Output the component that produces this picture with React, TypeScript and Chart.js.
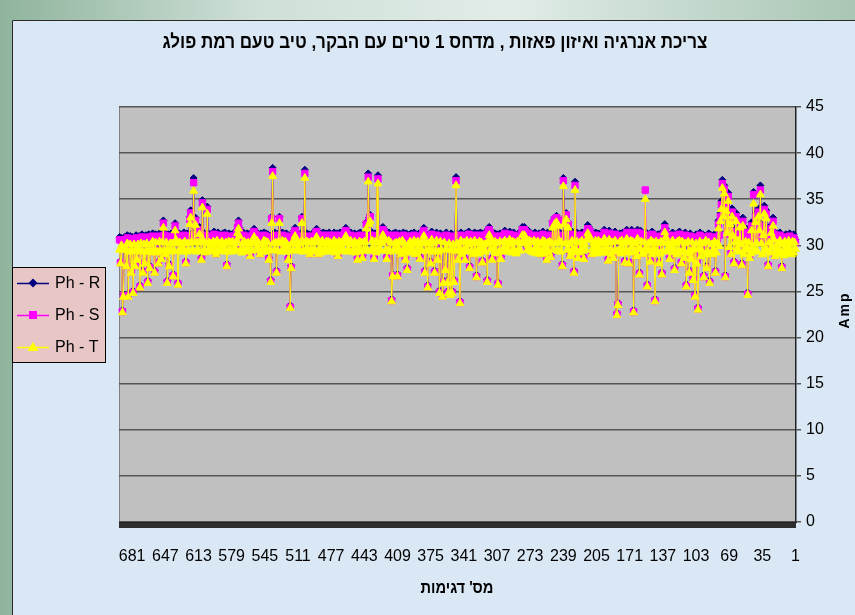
import React, { useEffect, useRef } from 'react';
import { Chart, registerables } from 'chart.js';

Chart.register(...registerables);

const TITLE = 'צריכת אנרגיה ואיזון פאזות , מדחס 1 טרים עם הבקר, טיב טעם רמת פולג';
const X_TITLE = "מס' דגימות";
const Y_TITLE = 'Amp';
const SERIES_NAMES = ['Ph - R', 'Ph - S', 'Ph - T'];
const SERIES_COLORS = ['#000080', '#ff00ff', '#ffff00'];
const SAMPLE_COUNT = 694;
const LABEL_STEP = 34;
const Y_MIN = 0;
const Y_MAX = 45;
const Y_STEP = 5;

const categories = Array.from({ length: SAMPLE_COUNT }, (_, k) => String(k + 1));

const phR = [
  30.6, 30.9, 31.2, 30.8, 30.7, 31.0, 31.3, 30.9, 31.1, 30.8, 31.2, 31.0, 30.6, 31.1, 27.8, 31.0, 31.4, 30.9, 31.3, 31.0,
  31.2, 29.1, 31.5, 33.0, 31.8, 32.2, 31.0, 30.6, 28.0, 31.4, 33.8, 31.2, 34.3, 32.0, 30.8, 31.6, 36.5, 32.5, 34.0, 31.5,
  31.8, 33.5, 31.2, 35.8, 31.5, 32.5, 31.0, 28.9, 31.4, 24.9, 31.8, 30.9, 29.8, 31.3, 33.0, 28.1, 31.6, 32.8, 31.2, 30.8,
  31.4, 33.5, 31.0, 28.3, 31.9, 34.0, 29.3, 33.2, 31.6, 35.7, 32.2, 34.6, 26.8, 36.5, 34.0, 37.1, 34.8, 33.5, 31.5, 32.7,
  31.0, 30.7, 27.3, 31.2, 30.9, 29.3, 31.1, 30.6, 26.2, 31.3, 30.8, 27.8, 31.0, 30.5, 26.8, 31.2, 30.9, 29.1, 31.4, 31.0,
  23.3, 28.3, 31.2, 24.7, 31.0, 26.5, 30.8, 28.8, 31.3, 27.3, 31.1, 30.7, 25.8, 31.4, 28.9, 31.0, 30.8, 28.3, 31.2, 31.5,
  31.0, 31.3, 30.9, 31.2, 27.6, 31.0, 31.4, 31.1, 30.8, 28.8, 31.2, 31.0, 31.3, 31.8, 32.3, 31.6, 31.1, 27.1, 31.3, 30.9,
  28.3, 31.2, 31.0, 30.8, 24.2, 31.3, 31.1, 31.5, 31.0, 28.5, 31.2, 30.9, 25.8, 31.4, 31.2, 31.0, 30.8, 29.3, 31.3, 31.6,
  27.1, 31.3, 31.7, 29.1, 31.5, 31.2, 23.0, 31.4, 31.7, 31.2, 31.0, 28.3, 31.4, 31.7, 31.3, 28.4, 31.1, 31.4, 31.0, 31.2,
  31.3, 31.0, 23.8, 22.7, 31.2, 31.5, 31.1, 28.9, 31.3, 31.0, 31.4, 31.6, 28.6, 31.2, 30.9, 31.3, 31.7, 31.4, 31.1, 31.0,
  31.2, 31.0, 31.3, 31.1, 30.9, 31.4, 31.2, 31.0, 31.3, 29.3, 31.5, 31.8, 32.0, 32.2, 31.7, 31.3, 31.0, 28.8, 31.2, 31.4,
  31.3, 31.0, 31.2, 28.9, 31.4, 31.1, 36.9, 27.3, 31.2, 31.5, 31.0, 29.1, 31.3, 32.5, 31.2, 33.5, 31.4, 33.0, 37.3, 28.0,
  31.2, 31.0, 31.4, 32.8, 31.1, 33.2, 31.3, 33.0, 31.2, 32.6, 31.0, 29.0, 31.3, 31.1, 31.4, 28.7, 31.2, 31.0, 31.3, 31.5,
  31.2, 29.3, 31.0, 31.3, 31.1, 30.9, 31.2, 31.4, 31.0, 31.2, 29.6, 31.3, 31.1, 31.4, 31.6, 29.8, 31.5, 31.8, 32.0, 31.7,
  32.0, 31.6, 31.2, 31.0, 31.3, 31.1, 30.9, 29.5, 31.2, 31.4, 31.1, 31.0, 31.3, 31.5, 29.7, 31.2, 31.0, 31.3, 31.6, 31.4,
  31.2, 31.0, 28.8, 31.3, 31.1, 26.0, 31.2, 30.9, 31.3, 31.0, 31.2, 28.7, 31.4, 31.7, 32.0, 31.8, 26.3, 31.5, 31.2, 31.0,
  31.3, 28.4, 31.1, 31.4, 31.2, 30.9, 31.3, 26.8, 31.1, 31.4, 29.3, 31.2, 31.0, 31.3, 27.8, 31.5, 31.2, 31.0, 31.3, 28.7,
  31.2, 31.0, 29.3, 31.4, 24.0, 31.1, 28.7, 31.3, 37.4, 31.2, 26.3, 31.0, 25.1, 31.3, 24.9, 31.1, 25.1, 26.2, 31.4, 27.6,
  31.2, 26.2, 24.7, 31.0, 31.3, 25.1, 31.1, 28.7, 31.4, 31.2, 27.3, 31.0, 31.3, 31.5, 28.3, 31.2, 30.9, 25.7, 31.1, 31.3,
  27.3, 31.9, 31.6, 31.2, 31.0, 28.8, 31.3, 31.1, 30.9, 31.2, 29.3, 31.4, 31.1, 31.0, 31.3, 31.2, 30.9, 31.1, 27.6, 31.3,
  28.7, 31.1, 31.4, 31.2, 29.3, 31.0, 31.3, 31.1, 26.9, 31.2, 31.4, 31.0, 31.3, 26.9, 24.2, 31.2, 31.0, 31.4, 31.1, 28.8,
  31.2, 31.5, 31.8, 32.0, 31.6, 31.2, 31.0, 31.3, 37.6, 31.2, 31.0, 31.3, 28.8, 31.1, 31.4, 31.2, 33.3, 33.0, 37.8, 31.1,
  32.5, 31.0, 31.3, 31.1, 28.9, 31.2, 31.4, 31.0, 31.3, 28.7, 31.1, 31.0, 31.3, 31.2, 29.6, 31.0, 31.4, 31.2, 31.0, 31.3,
  31.6, 31.9, 31.7, 31.3, 31.1, 31.0, 31.2, 31.4, 31.1, 29.1, 31.3, 31.0, 31.2, 31.4, 31.1, 31.0, 29.7, 31.2, 31.4, 31.1,
  31.0, 31.3, 31.2, 31.0, 31.4, 31.1, 31.3, 31.0, 31.2, 29.3, 31.5, 31.8, 31.6, 31.2, 31.0, 31.3, 31.1, 31.0, 29.3, 31.2,
  31.1, 31.3, 31.0, 38.2, 31.2, 31.0, 33.1, 31.3, 31.1, 29.8, 31.0, 31.2, 31.5, 31.9, 31.6, 31.2, 31.0, 27.8, 23.5, 31.1,
  28.7, 31.0, 31.3, 31.1, 31.2, 29.8, 31.4, 31.0, 31.2, 33.1, 31.3, 31.0, 27.3, 31.2, 31.4, 31.1, 38.4, 33.1, 26.3, 31.0,
  28.7, 31.2, 31.0, 31.3, 31.1, 31.4, 31.2, 31.0, 31.3, 29.3, 31.1, 31.0, 31.4, 31.2, 31.5, 31.8, 31.6, 31.2, 31.0, 29.1,
  31.2, 31.0, 31.3, 31.1, 29.6, 31.2, 31.4, 31.1, 31.0, 29.8, 31.9, 32.7, 32.2, 31.6, 31.2, 31.0, 31.3, 31.1, 31.0, 31.2,
  31.0, 31.3, 31.1, 28.0, 31.2, 31.4, 31.0, 31.3, 31.1, 29.8, 31.2, 31.0, 31.4, 31.1, 29.3, 31.2, 31.5, 31.3, 31.0, 31.2,
  31.2, 31.0, 31.3, 34.2, 31.1, 29.5, 31.2, 31.4, 34.9, 28.7, 31.3, 32.0, 31.2, 31.0, 31.3, 33.0, 31.2, 37.3, 31.4, 31.1,
  33.8, 33.1, 31.2, 30.8, 31.3, 28.3, 31.1, 31.4, 31.0, 29.8, 31.2, 31.0, 31.3, 26.0, 31.1, 31.5, 32.4, 31.2, 26.9, 31.0,
  31.3, 31.1, 28.0, 31.2, 26.2, 31.0, 29.3, 31.4, 32.7, 31.2, 28.8, 31.1, 31.3, 28.3, 31.0, 29.5, 31.2, 27.3, 31.1, 31.3,
  29.5, 31.0, 27.8, 31.2, 26.2, 30.9, 31.1, 28.3, 31.0, 27.3, 31.2, 30.8, 25.7, 31.0, 30.9, 28.7, 31.1, 28.0, 30.8, 25.1,
  30.9, 27.3, 31.0, 30.8, 24.7, 31.1, 28.0, 29.8, 30.9, 24.7, 23.0, 30.8, 28.3, 30.9,
];

const phS = [
  30.3, 30.6, 30.8, 30.5, 30.4, 30.7, 31.0, 30.6, 30.8, 30.5, 30.9, 30.6, 30.3, 30.8, 27.6, 30.6, 31.1, 30.6, 30.9, 30.7,
  30.9, 28.9, 31.2, 32.6, 31.4, 31.8, 30.7, 30.3, 27.8, 31.0, 33.4, 30.9, 33.9, 31.6, 30.5, 31.2, 36.0, 32.1, 33.6, 31.1,
  31.4, 33.1, 30.9, 35.5, 31.1, 32.1, 30.7, 28.7, 31.0, 24.7, 31.4, 30.6, 29.6, 31.0, 32.6, 27.9, 31.2, 32.4, 30.9, 30.5,
  31.1, 33.1, 30.7, 28.1, 31.5, 33.6, 29.1, 32.8, 31.2, 35.3, 31.8, 34.2, 26.6, 36.1, 33.6, 36.7, 34.4, 33.1, 31.1, 32.3,
  30.7, 30.4, 27.1, 30.9, 30.6, 29.1, 30.8, 30.3, 26.0, 31.0, 30.5, 27.6, 30.7, 30.2, 26.6, 30.9, 30.6, 28.9, 31.1, 30.7,
  23.1, 28.1, 30.9, 24.5, 30.7, 26.3, 30.5, 28.6, 31.0, 27.1, 30.8, 30.4, 25.6, 31.1, 28.7, 30.7, 30.5, 28.1, 30.9, 31.2,
  30.7, 31.0, 30.6, 30.9, 27.4, 30.7, 31.1, 30.8, 30.5, 28.6, 30.9, 30.7, 31.0, 31.4, 31.9, 31.2, 30.8, 26.9, 31.0, 30.6,
  28.1, 30.9, 30.7, 30.5, 24.0, 31.0, 30.8, 31.2, 30.7, 28.3, 30.9, 30.6, 25.6, 31.1, 36.0, 30.7, 30.5, 29.1, 31.0, 31.3,
  26.9, 31.0, 31.4, 28.9, 31.2, 30.9, 22.8, 31.1, 31.4, 30.9, 30.7, 28.1, 31.1, 31.4, 31.0, 28.2, 30.8, 31.1, 30.7, 30.9,
  31.0, 30.7, 23.6, 22.5, 30.9, 31.2, 30.8, 28.7, 31.0, 30.7, 31.1, 31.3, 28.4, 30.9, 30.6, 31.0, 31.4, 31.1, 30.8, 30.7,
  30.9, 30.7, 31.0, 30.8, 30.6, 31.1, 30.9, 30.7, 31.0, 29.1, 31.2, 31.5, 31.7, 31.8, 31.4, 31.0, 30.7, 28.6, 30.9, 31.1,
  31.0, 30.7, 30.9, 28.7, 31.1, 30.8, 36.5, 27.1, 30.9, 31.2, 30.7, 28.9, 31.0, 32.3, 30.9, 33.3, 31.1, 32.8, 37.0, 27.8,
  30.9, 30.7, 31.1, 32.6, 30.8, 33.0, 31.0, 32.8, 30.9, 32.4, 30.7, 28.8, 31.0, 30.8, 31.1, 28.5, 30.9, 30.7, 31.0, 31.2,
  30.9, 29.1, 30.7, 31.0, 30.8, 30.6, 30.9, 31.1, 30.7, 30.9, 29.4, 31.0, 30.8, 31.1, 31.3, 29.6, 31.2, 31.5, 31.7, 31.4,
  31.7, 31.3, 30.9, 30.7, 31.0, 30.8, 30.6, 29.3, 30.9, 31.1, 30.8, 30.7, 31.0, 31.2, 29.5, 30.9, 30.7, 31.0, 31.3, 31.1,
  30.9, 30.7, 28.6, 31.0, 30.8, 25.8, 30.9, 30.6, 31.0, 30.7, 30.9, 28.5, 31.1, 31.4, 31.7, 31.5, 26.1, 31.2, 30.9, 30.7,
  31.0, 28.2, 30.8, 31.1, 30.9, 30.6, 31.0, 26.6, 30.8, 31.1, 29.1, 30.9, 30.7, 31.0, 27.6, 31.2, 30.9, 30.7, 31.0, 28.5,
  30.9, 30.7, 29.1, 31.1, 23.8, 30.8, 28.5, 31.0, 37.0, 30.9, 26.1, 30.7, 24.9, 31.0, 24.7, 30.8, 24.9, 26.0, 31.1, 27.4,
  30.9, 26.0, 24.5, 30.7, 31.0, 24.9, 30.8, 28.5, 31.1, 30.9, 27.1, 30.7, 31.0, 31.2, 28.1, 30.9, 30.6, 25.5, 30.8, 31.0,
  27.1, 31.6, 31.3, 30.9, 30.7, 28.6, 31.0, 30.8, 30.6, 30.9, 29.1, 31.1, 30.8, 30.7, 31.0, 30.9, 30.6, 30.8, 27.4, 31.0,
  28.5, 30.8, 31.1, 30.9, 29.1, 30.7, 31.0, 30.8, 26.7, 30.9, 31.1, 30.7, 31.0, 26.7, 24.0, 30.9, 30.7, 31.1, 30.8, 28.6,
  30.9, 31.2, 31.5, 31.7, 31.3, 30.9, 30.7, 31.0, 37.2, 30.9, 30.7, 31.0, 28.6, 30.8, 31.1, 30.9, 33.1, 32.8, 37.4, 30.8,
  32.3, 30.7, 31.0, 30.8, 28.7, 30.9, 31.1, 30.7, 31.0, 28.5, 30.8, 30.7, 31.0, 30.9, 29.4, 30.7, 31.1, 30.9, 30.7, 31.0,
  31.3, 31.6, 31.4, 31.0, 30.8, 30.7, 30.9, 31.1, 30.8, 28.9, 31.0, 30.7, 30.9, 31.1, 30.8, 30.7, 29.5, 30.9, 31.1, 30.8,
  30.7, 31.0, 30.9, 30.7, 31.1, 30.8, 31.0, 30.7, 30.9, 29.1, 31.2, 31.5, 31.3, 30.9, 30.7, 31.0, 30.8, 30.7, 29.1, 30.9,
  30.8, 31.0, 30.7, 37.8, 30.9, 30.7, 32.9, 31.0, 30.8, 29.6, 30.7, 30.9, 31.2, 31.6, 31.3, 30.9, 30.7, 27.6, 23.3, 30.8,
  28.5, 30.7, 31.0, 30.8, 30.9, 29.6, 31.1, 30.7, 30.9, 32.9, 31.0, 30.7, 27.1, 30.9, 31.1, 30.8, 38.0, 32.9, 26.1, 30.7,
  28.5, 30.9, 30.7, 31.0, 30.8, 31.1, 30.9, 30.7, 31.0, 29.1, 30.8, 30.7, 31.1, 30.9, 31.2, 31.5, 31.3, 30.9, 30.7, 28.9,
  30.9, 30.7, 31.0, 30.8, 29.4, 30.9, 31.1, 30.8, 30.7, 29.6, 31.6, 32.4, 31.9, 31.3, 30.9, 30.7, 31.0, 30.8, 30.7, 30.9,
  30.7, 31.0, 30.8, 27.8, 30.9, 31.1, 30.7, 31.0, 30.8, 29.6, 30.9, 30.7, 31.1, 30.8, 29.1, 30.9, 31.2, 31.0, 30.7, 30.9,
  30.9, 30.7, 31.0, 33.9, 30.8, 29.3, 30.9, 31.1, 34.6, 28.5, 31.0, 31.7, 30.9, 30.7, 31.0, 32.7, 30.9, 36.8, 31.1, 30.8,
  33.5, 32.8, 30.9, 30.5, 31.0, 28.1, 30.8, 31.1, 30.7, 29.6, 30.9, 30.7, 31.0, 25.8, 30.8, 31.2, 32.1, 30.9, 26.7, 30.7,
  31.0, 30.8, 27.8, 30.9, 26.0, 30.7, 29.1, 31.1, 32.4, 30.9, 28.6, 30.8, 31.0, 28.1, 30.7, 29.3, 30.9, 27.1, 30.8, 31.0,
  29.3, 30.7, 27.6, 30.9, 26.0, 30.6, 30.8, 28.1, 30.7, 27.1, 30.9, 30.5, 25.5, 30.7, 30.6, 28.5, 30.8, 27.8, 30.5, 24.9,
  30.6, 27.1, 30.7, 30.5, 24.5, 30.8, 27.8, 29.6, 30.6, 24.5, 22.8, 30.5, 28.1, 30.6,
];

const phT = [
  29.6, 30.3, 29.2, 30.4, 29.0, 30.2, 29.5, 30.5, 29.1, 30.0, 29.4, 30.4, 28.9, 30.1, 27.5, 29.3, 30.5, 29.0, 30.2, 29.4,
  29.5, 28.8, 30.6, 32.1, 29.8, 31.3, 29.2, 30.3, 27.7, 29.4, 32.9, 29.6, 33.4, 31.1, 29.0, 30.2, 35.5, 31.6, 33.1, 29.3,
  30.2, 32.5, 29.4, 34.5, 29.9, 31.6, 29.1, 28.6, 30.3, 24.6, 29.7, 30.4, 29.5, 29.0, 32.1, 27.8, 30.1, 31.9, 29.3, 30.5,
  29.6, 32.6, 30.3, 28.0, 31.0, 33.1, 29.0, 32.3, 29.8, 34.8, 31.3, 33.7, 26.5, 35.6, 33.1, 36.2, 33.9, 32.6, 29.9, 31.8,
  30.2, 29.2, 27.0, 30.4, 29.5, 29.0, 30.1, 29.1, 25.9, 30.3, 29.3, 27.5, 30.5, 29.0, 26.5, 30.2, 29.4, 28.8, 30.4, 29.6,
  23.0, 28.0, 30.2, 24.4, 29.6, 26.2, 30.3, 28.5, 29.4, 27.0, 30.4, 29.1, 25.5, 30.2, 28.6, 29.5, 30.4, 28.0, 29.2, 30.5,
  29.3, 30.4, 29.0, 30.2, 27.3, 29.5, 30.5, 29.2, 30.1, 28.5, 29.6, 30.3, 29.4, 30.9, 31.4, 30.2, 29.3, 26.8, 30.4, 29.1,
  28.0, 30.2, 29.3, 30.4, 23.9, 29.5, 30.3, 29.0, 30.5, 28.2, 29.4, 30.2, 25.5, 29.7, 35.0, 30.3, 29.2, 29.0, 30.4, 29.6,
  26.8, 29.6, 30.7, 28.8, 30.2, 29.3, 22.7, 30.4, 29.8, 30.5, 29.2, 28.0, 30.3, 30.7, 29.5, 28.1, 30.2, 29.4, 30.5, 29.1,
  30.4, 29.5, 23.5, 22.4, 29.4, 30.5, 29.3, 28.6, 30.3, 29.0, 30.4, 30.6, 28.3, 29.7, 29.2, 30.4, 30.7, 29.5, 30.2, 29.2,
  30.3, 29.4, 30.5, 29.1, 29.8, 30.5, 29.3, 30.2, 29.6, 29.0, 30.6, 30.9, 31.1, 31.3, 30.6, 29.5, 30.1, 28.5, 29.4, 30.5,
  29.5, 30.3, 29.2, 28.6, 30.4, 29.4, 36.0, 27.0, 29.6, 30.5, 29.2, 28.8, 30.1, 31.9, 29.5, 32.8, 30.2, 32.3, 36.4, 27.7,
  30.3, 29.3, 30.5, 32.1, 29.4, 32.5, 30.2, 32.3, 29.5, 31.9, 30.2, 28.7, 30.4, 29.2, 30.3, 28.4, 29.6, 30.4, 29.1, 30.5,
  29.4, 29.0, 30.2, 29.3, 30.4, 29.1, 30.3, 29.6, 30.5, 29.2, 29.3, 30.4, 29.4, 30.5, 30.0, 29.5, 30.6, 30.9, 31.1, 30.3,
  31.1, 30.2, 29.4, 30.3, 29.5, 30.4, 29.1, 29.2, 30.3, 29.6, 30.4, 29.2, 30.1, 30.6, 29.4, 29.5, 30.3, 29.3, 30.5, 29.7,
  30.3, 29.4, 28.5, 30.4, 29.3, 25.7, 30.2, 29.1, 30.4, 29.5, 30.3, 28.4, 29.6, 30.8, 31.1, 30.4, 26.0, 30.2, 29.3, 30.1,
  29.5, 28.1, 30.3, 29.6, 30.4, 29.1, 30.2, 26.5, 29.4, 30.5, 29.0, 30.2, 29.3, 30.4, 27.5, 30.1, 29.4, 30.5, 29.6, 28.4,
  30.3, 29.4, 29.0, 30.5, 23.7, 29.6, 28.4, 30.2, 36.5, 29.4, 26.0, 30.1, 24.8, 29.5, 24.6, 30.2, 24.8, 25.9, 29.6, 27.3,
  30.3, 25.9, 24.4, 29.5, 30.4, 24.8, 29.3, 28.4, 30.5, 29.4, 27.0, 30.2, 29.3, 30.6, 28.0, 29.5, 30.2, 25.4, 29.4, 30.4,
  27.0, 31.0, 30.2, 29.4, 30.3, 28.5, 29.5, 30.4, 29.1, 30.3, 29.0, 30.5, 29.3, 30.2, 29.5, 30.4, 29.2, 30.1, 27.3, 29.6,
  28.4, 30.2, 29.4, 30.5, 29.0, 29.3, 30.4, 29.6, 26.6, 30.3, 29.4, 30.2, 29.5, 26.6, 23.9, 30.3, 29.3, 30.5, 29.4, 28.5,
  29.5, 30.6, 30.9, 31.1, 30.2, 29.4, 30.3, 29.6, 36.7, 30.3, 29.2, 30.4, 28.5, 29.6, 30.5, 29.4, 32.6, 32.3, 36.9, 29.5,
  31.8, 29.4, 30.4, 29.5, 28.6, 30.3, 29.3, 30.4, 29.6, 28.4, 30.2, 29.2, 30.4, 29.5, 29.3, 30.1, 30.5, 29.3, 30.2, 29.5,
  30.7, 31.0, 30.3, 29.4, 30.2, 29.3, 30.3, 29.5, 30.4, 28.8, 29.5, 30.3, 29.2, 30.5, 29.4, 30.1, 29.4, 30.3, 29.5, 30.4,
  29.3, 30.4, 29.5, 30.2, 29.4, 30.5, 29.2, 30.3, 29.6, 29.0, 30.6, 30.9, 30.4, 29.5, 30.3, 29.3, 30.4, 29.5, 29.0, 30.3,
  29.4, 30.4, 29.5, 37.3, 30.3, 29.3, 32.4, 30.4, 29.4, 29.5, 30.1, 29.6, 30.6, 31.0, 30.2, 29.4, 30.3, 27.5, 23.2, 29.6,
  28.4, 30.1, 29.3, 30.4, 29.5, 29.5, 30.5, 29.3, 30.2, 32.4, 30.4, 29.4, 27.0, 30.3, 29.5, 30.2, 37.5, 32.4, 26.0, 29.5,
  28.4, 30.3, 29.4, 30.4, 29.3, 30.5, 29.5, 30.1, 29.3, 29.0, 30.2, 29.5, 30.5, 29.6, 30.6, 30.9, 30.2, 29.4, 30.3, 28.8,
  29.5, 30.3, 29.4, 30.2, 29.3, 30.4, 29.5, 30.2, 29.2, 29.5, 31.0, 31.8, 31.3, 30.5, 29.6, 30.2, 29.4, 30.4, 29.3, 30.3,
  29.4, 30.4, 29.3, 27.7, 30.3, 29.5, 30.1, 29.4, 30.4, 29.5, 29.3, 30.2, 29.4, 30.5, 29.0, 30.3, 29.6, 30.4, 29.3, 30.2,
  29.4, 30.3, 29.5, 33.4, 30.2, 29.2, 29.5, 30.5, 34.1, 28.4, 30.4, 31.2, 29.4, 30.3, 29.3, 32.2, 30.3, 35.9, 29.5, 30.4,
  33.0, 32.3, 29.4, 30.2, 29.3, 28.0, 30.4, 29.5, 30.2, 29.5, 29.3, 30.3, 29.4, 25.7, 30.2, 30.6, 31.6, 29.4, 26.6, 30.2,
  29.3, 30.2, 27.7, 29.5, 25.9, 30.3, 29.0, 29.4, 31.9, 30.3, 28.5, 29.4, 30.4, 28.0, 29.3, 29.2, 30.3, 27.0, 29.4, 30.4,
  29.2, 30.1, 27.5, 29.4, 25.9, 30.2, 29.3, 28.0, 30.1, 27.0, 29.3, 30.2, 25.4, 29.5, 30.1, 28.4, 29.4, 27.7, 30.1, 24.8,
  29.4, 27.0, 30.1, 29.3, 24.4, 30.2, 27.7, 29.5, 29.6, 24.4, 22.7, 30.0, 28.0, 29.5,
];

const FONT = '"Liberation Sans", Arial, sans-serif';

function drawMarker(ctx: CanvasRenderingContext2D, style: string, x: number, y: number, color: string) {
  ctx.fillStyle = color;
  ctx.beginPath();
  if (style === 'rectRot') {
    ctx.moveTo(x, y - 4.5);
    ctx.lineTo(x + 4.5, y);
    ctx.lineTo(x, y + 4.5);
    ctx.lineTo(x - 4.5, y);
  } else if (style === 'rect') {
    ctx.rect(x - 4, y - 4, 8, 8);
  } else {
    ctx.moveTo(x, y - 5);
    ctx.lineTo(x + 5.5, y + 4);
    ctx.lineTo(x - 5.5, y + 4);
  }
  ctx.closePath();
  ctx.fill();
}

const decorPlugin = {
  id: 'decor',
  beforeDraw(chart: any) {
    const { ctx, width, height, chartArea } = chart;
    ctx.save();
    const g = ctx.createLinearGradient(0, 0, width, 0);
    g.addColorStop(0, '#8fb49c');
    g.addColorStop(0.3, '#cfe0d8');
    g.addColorStop(0.6, '#e1ece8');
    g.addColorStop(1, '#a9c6b4');
    ctx.fillStyle = g;
    ctx.fillRect(0, 0, width, height);
    ctx.fillStyle = '#dae7f4';
    ctx.fillRect(12, 20, width - 12, height - 20);
    ctx.strokeStyle = '#2a2a2a';
    ctx.lineWidth = 1;
    ctx.beginPath();
    ctx.moveTo(12.5, height);
    ctx.lineTo(12.5, 20.5);
    ctx.lineTo(width, 20.5);
    ctx.stroke();
    ctx.fillStyle = '#c0c0c0';
    ctx.fillRect(chartArea.left, chartArea.top, chartArea.right - chartArea.left, chartArea.bottom - chartArea.top);
    ctx.strokeStyle = '#808080';
    ctx.beginPath();
    ctx.moveTo(chartArea.left + 0.5, chartArea.top);
    ctx.lineTo(chartArea.left + 0.5, chartArea.bottom);
    ctx.stroke();
    ctx.restore();
  },
  afterDraw(chart: any) {
    const { ctx } = chart;
    ctx.save();
    ctx.fillStyle = '#000';
    ctx.textBaseline = 'middle';
    ctx.textAlign = 'center';
    ctx.direction = 'rtl';
    ctx.font = `bold 19px ${FONT}`;
    let w = ctx.measureText(TITLE).width;
    ctx.save();
    ctx.translate(435, 43);
    ctx.scale(545 / w, 1);
    ctx.fillText(TITLE, 0, 0);
    ctx.restore();
    ctx.font = `bold 17px ${FONT}`;
    w = ctx.measureText(X_TITLE).width;
    ctx.save();
    ctx.translate(457, 588);
    ctx.scale(73 / w, 1);
    ctx.fillText(X_TITLE, 0, 0);
    ctx.restore();
    ctx.direction = 'ltr';
    ctx.save();
    ctx.translate(845, 311);
    ctx.rotate(-Math.PI / 2);
    ctx.font = `bold 14px ${FONT}`;
    (ctx as any).letterSpacing = '2px';
    ctx.fillText(Y_TITLE, 1, 0);
    ctx.restore();
    const lx = 12, ly = 267, lw = 93, lh = 95;
    ctx.fillStyle = '#e8c6c6';
    ctx.fillRect(lx, ly, lw, lh);
    ctx.strokeStyle = '#000';
    ctx.lineWidth = 1;
    ctx.strokeRect(lx + 0.5, ly + 0.5, lw, lh);
    const styles = ['rectRot', 'rect', 'triangle'];
    const rows = [283, 315, 347];
    ctx.font = `16px ${FONT}`;
    ctx.textAlign = 'left';
    for (let k = 0; k < 3; k++) {
      const y = rows[k];
      ctx.strokeStyle = SERIES_COLORS[k];
      ctx.lineWidth = 1.5;
      ctx.beginPath();
      ctx.moveTo(17, y + 0.5);
      ctx.lineTo(49, y + 0.5);
      ctx.stroke();
      drawMarker(ctx, styles[k], 33, y, SERIES_COLORS[k]);
      ctx.fillStyle = '#000';
      ctx.fillText(SERIES_NAMES[k], 55, y + 1);
    }
    ctx.restore();
  },
};

export default function App() {
  const ref = useRef<HTMLCanvasElement>(null);
  useEffect(() => {
    document.body.style.margin = '0';
    const canvas = ref.current;
    if (!canvas) return;
    const chart = new Chart(canvas, {
      type: 'line',
      data: {
        labels: categories,
        datasets: [
          {
            label: SERIES_NAMES[0], data: phR, order: 3,
            borderColor: SERIES_COLORS[0], backgroundColor: SERIES_COLORS[0], borderWidth: 1,
            pointStyle: 'rectRot', pointRadius: 3.5, pointBorderWidth: 1, pointBorderColor: SERIES_COLORS[0],
            pointBackgroundColor: SERIES_COLORS[0],
          },
          {
            label: SERIES_NAMES[1], data: phS, order: 2,
            borderColor: SERIES_COLORS[1], backgroundColor: SERIES_COLORS[1], borderWidth: 1,
            pointStyle: 'rect', pointRadius: 4.5, pointBorderWidth: 1, pointBorderColor: SERIES_COLORS[1],
            pointBackgroundColor: SERIES_COLORS[1],
          },
          {
            label: SERIES_NAMES[2], data: phT, order: 1,
            borderColor: SERIES_COLORS[2], backgroundColor: SERIES_COLORS[2], borderWidth: 1,
            pointStyle: 'triangle', pointRadius: 4.5, pointBorderWidth: 1, pointBorderColor: SERIES_COLORS[2],
            pointBackgroundColor: SERIES_COLORS[2],
          },
        ],
      },
      options: {
        responsive: false,
        animation: false,
        devicePixelRatio: 1,
        events: [],
        layout: { padding: { left: 119, top: 107, right: 0, bottom: 0 } },
        plugins: { legend: { display: false }, title: { display: false }, tooltip: { enabled: false } },
        elements: { line: { tension: 0 } },
        scales: {
          x: {
            type: 'category',
            reverse: true,
            offset: true,
            afterFit: (s: any) => { s.height = 93; },
            grid: { display: true, drawOnChartArea: false, drawTicks: true, tickLength: 6, color: '#2e2e2e', lineWidth: 1 },
            border: { display: true, color: '#222', width: 1 },
            ticks: {
              autoSkip: false, maxRotation: 0, minRotation: 0, padding: 19, color: '#000',
              font: { family: FONT, size: 16 },
              callback: (_v: any, i: number) => (i % LABEL_STEP === 0 ? categories[i] : ''),
            },
          },
          y: {
            position: 'right',
            min: Y_MIN,
            max: Y_MAX,
            afterFit: (s: any) => { s.width = 59; },
            grid: { color: '#555', lineWidth: 1.5, tickLength: 5, drawTicks: true },
            border: { display: true, color: '#222', width: 1.5 },
            ticks: { stepSize: Y_STEP, padding: 5, color: '#000', font: { family: FONT, size: 16 } },
          },
        },
      },
      plugins: [decorPlugin],
    } as any);
    return () => chart.destroy();
  }, []);
  return (
    <div style={{ width: 855, height: 615 }}>
      <canvas ref={ref} width={855} height={615} />
    </div>
  );
}
